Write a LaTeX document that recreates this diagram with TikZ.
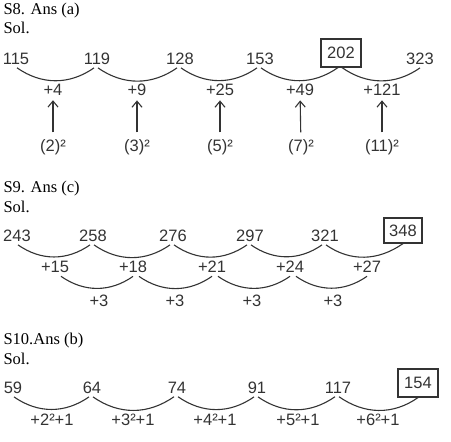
\documentclass[tikz,border=0pt]{standalone}
\usepackage{fontspec}
\setmainfont{Liberation Sans}
\newfontfamily\headfont{Liberation Serif}
\usetikzlibrary{arrows.meta}

\tikzset{
    num/.style={inner sep=2.5pt, font=\fontsize{16.5}{19}\selectfont},
    boxed/.style={num, draw, line width=1.2pt},
    plus/.style={num, inner sep=3pt},
    head/.style={anchor=base west, inner sep=0pt, text=black, font=\headfont\fontsize{16.5}{19}\selectfont},
    swing/.style={out=-35, in=-145},
}

\begin{document}
\begin{tikzpicture}[x=1pt, y=-1pt, color=black!80, line width=1.1pt,
    >={Straight Barb[length=6pt, width=10pt]}]
    \useasboundingbox (0,0) rectangle (451,442);

    % headings
    \node (h8)  at (3, 14)  [head] {S8. Ans (a)};
    \node (s8)  at (3, 33)  [head] {Sol.};
    \node (h9)  at (3, 192) [head] {S9. Ans (c)};
    \node (s9)  at (3, 212) [head] {Sol.};
    \node (h10) at (3, 344) [head] {S10.Ans (b)};
    \node (s10) at (3, 364) [head] {Sol.};

    % S8 nodes
    \node (n1) at (16, 59)  [num] {115};
    \node (n2) at (97, 59)  [num] {119};
    \node (n3) at (180, 59) [num] {128};
    \node (n4) at (260, 59) [num] {153};
    \node (n5) at (341, 53) [boxed, minimum width=40pt, minimum height=28pt] {202};
    \node (n6) at (420, 59) [num] {323};

    \node (p1) at (53, 90)  [plus] {+4};
    \node (p2) at (137, 90) [plus] {+9};
    \node (p3) at (220, 90) [plus] {+25};
    \node (p4) at (300, 90) [plus] {+49};
    \node (p5) at (382, 90) [plus] {+121};

    \node (q1) at (53, 147)  [num] {(2)²};
    \node (q2) at (137, 147) [num] {(3)²};
    \node (q3) at (220, 147) [num] {(5)²};
    \node (q4) at (301, 147) [num] {(7)²};
    \node (q5) at (382, 147) [num] {(11)²};

    % S8 edges
    \draw
        ([xshift=1pt]n1.south) edge[swing] ([xshift=-3pt]n2.south)
        ([xshift=1pt]n2.south) edge[swing] ([xshift=-3pt]n3.south)
        ([xshift=1pt]n3.south) edge[swing] ([xshift=-3pt]n4.south)
        ([xshift=1pt]n4.south) edge[swing] ([xshift=-3pt]n5.south)
        ([xshift=1pt]n5.south) edge[swing] (n6.south);
    \draw[->, shorten <=4pt, shorten >=1pt]
        (q1) edge (p1)
        (q2) edge (p2)
        (q3) edge (p3)
        (q4) edge (p4)
        (q5) edge (p5);

    % S9 nodes
    \node (m1) at (17, 236)  [num] {243};
    \node (m2) at (93, 236)  [num] {258};
    \node (m3) at (173, 236) [num] {276};
    \node (m4) at (250, 236) [num] {297};
    \node (m5) at (325, 236) [num] {321};
    \node (m6) at (403, 230.5) [boxed, minimum width=38pt, minimum height=25pt] {348};

    \node (k1) at (55, 267)  [plus] {+15};
    \node (k2) at (133, 267) [plus] {+18};
    \node (k3) at (212, 267) [plus] {+21};
    \node (k4) at (290, 267) [plus] {+24};
    \node (k5) at (367, 267) [plus] {+27};

    \node (t1) at (99, 301)  [plus] {+3};
    \node (t2) at (175, 301) [plus] {+3};
    \node (t3) at (252, 301) [plus] {+3};
    \node (t4) at (333, 301) [plus] {+3};

    % S9 edges
    \draw
        ([xshift=1pt]m1.south) edge[swing] ([xshift=-3pt]m2.south)
        ([xshift=1pt]m2.south) edge[swing] ([xshift=-3pt]m3.south)
        ([xshift=1pt]m3.south) edge[swing] ([xshift=-3pt]m4.south)
        ([xshift=1pt]m4.south) edge[swing] ([xshift=-3pt]m5.south)
        ([xshift=1pt]m5.south) edge[swing] (m6.south)
        ([xshift=6pt]k1.south) edge[swing] (k2.south)
        ([xshift=6pt]k2.south) edge[swing] (k3.south)
        ([xshift=6pt]k3.south) edge[swing] (k4.south)
        ([xshift=6pt]k4.south) edge[swing] (k5.south);

    % S10 nodes
    \node (v1) at (13, 388)  [num] {59};
    \node (v2) at (92, 388)  [num] {64};
    \node (v3) at (177, 388) [num] {74};
    \node (v4) at (257, 388) [num] {91};
    \node (v5) at (338, 388) [num] {117};
    \node (v6) at (418, 383) [boxed, minimum width=40pt, minimum height=28pt] {154};

    \node (w1) at (52, 420)  [plus] {+2²+1};
    \node (w2) at (133, 420) [plus] {+3²+1};
    \node (w3) at (215, 420) [plus] {+4²+1};
    \node (w4) at (298, 420) [plus] {+5²+1};
    \node (w5) at (378, 420) [plus] {+6²+1};

    % S10 edges
    \draw
        ([xshift=1pt]v1.south) edge[swing] ([xshift=-3pt]v2.south)
        ([xshift=1pt]v2.south) edge[swing] ([xshift=-3pt]v3.south)
        ([xshift=1pt]v3.south) edge[swing] ([xshift=-3pt]v4.south)
        ([xshift=1pt]v4.south) edge[swing] ([xshift=-3pt]v5.south)
        ([xshift=1pt]v5.south) edge[swing] (v6.south);

\end{tikzpicture}
\end{document}
